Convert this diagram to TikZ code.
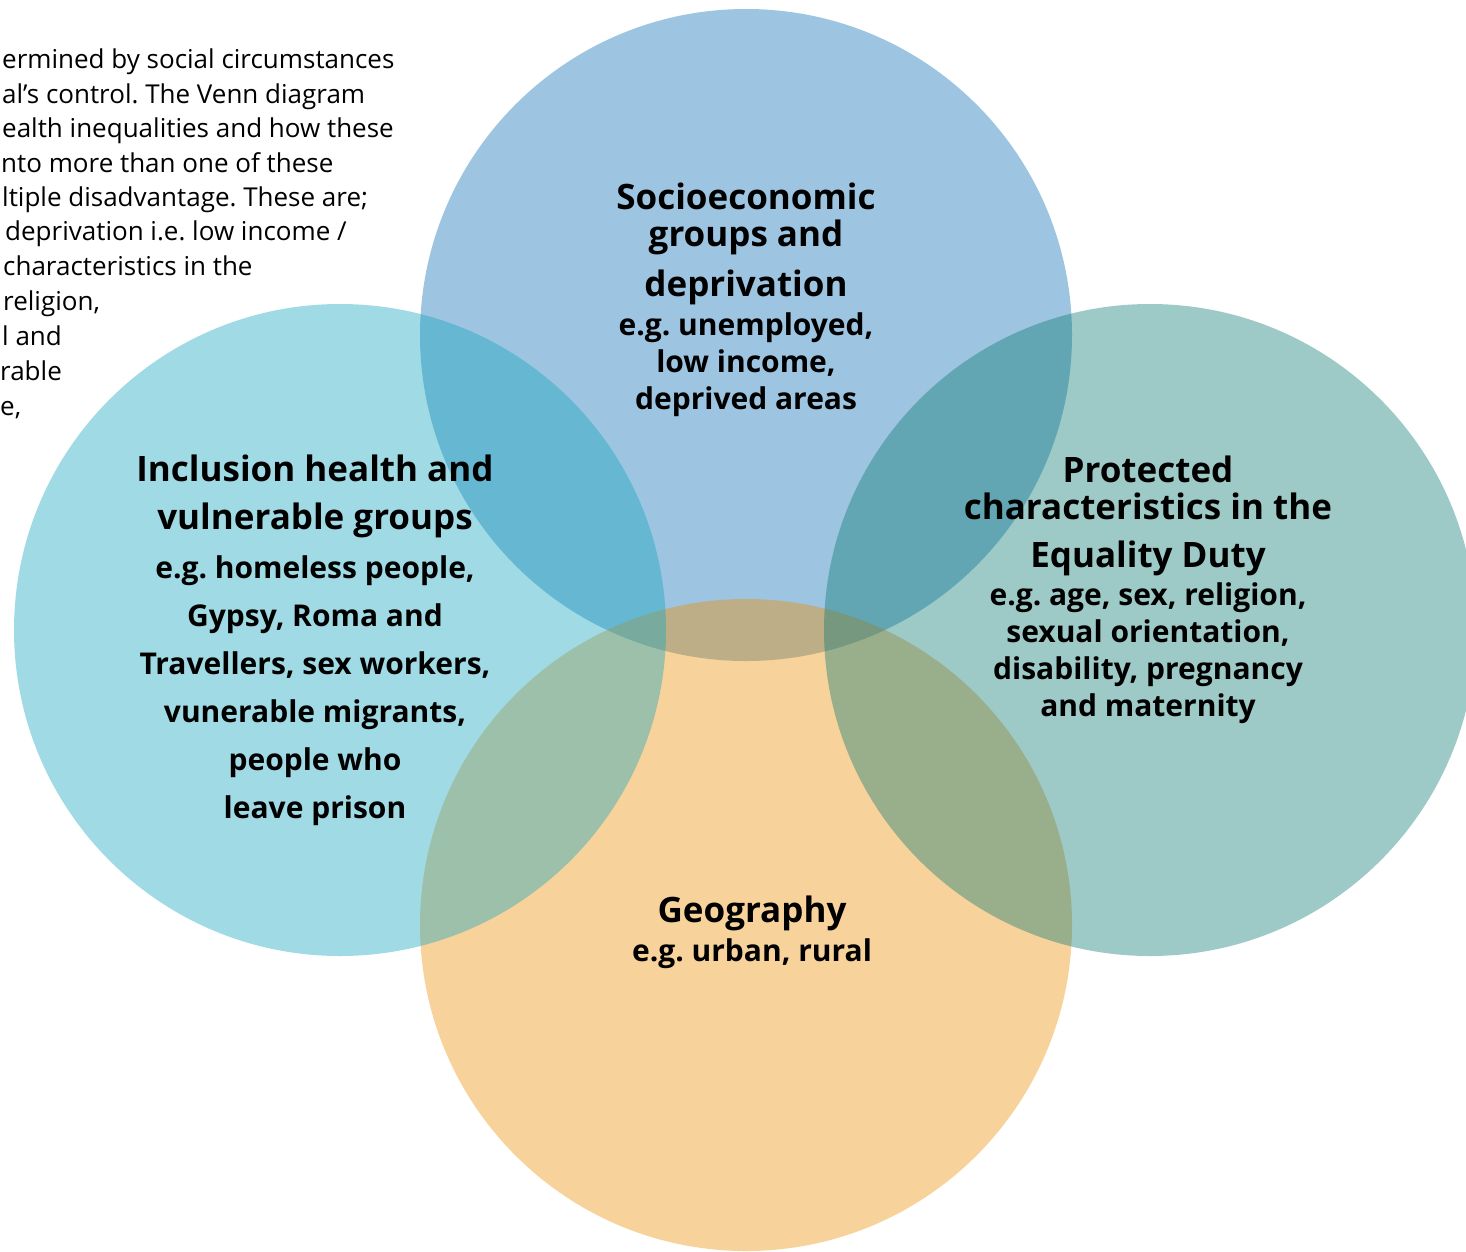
\documentclass[tikz,border=0pt]{standalone}
\usepackage{fontspec}
\setmainfont{Open Sans}
\frenchspacing
\usetikzlibrary{positioning}

\definecolor{socblue}{RGB}{10,108,178}
\definecolor{incblue}{RGB}{18,165,190}
\definecolor{protteal}{RGB}{10,120,115}
\definecolor{geoorange}{RGB}{238,143,5}

\begin{document}
\begin{tikzpicture}[x=1pt,y=-1pt,inner sep=0pt,node distance=8pt]
    \tikzstyle{venn}=[circle,minimum size=652pt,fill opacity=0.4]
    \tikzstyle{head}=[align=center,font=\fontsize{35}{37}\selectfont\bfseries]
    \tikzstyle{eg}=[align=center,font=\fontsize{30}{37}\selectfont\bfseries]
    \tikzstyle{para}=[anchor=base west,font=\fontsize{26}{30}\selectfont]

    \useasboundingbox (0,0) rectangle (1466,1251);
    \clip (0,0) rectangle (1466,1251);

    % text of the page, cut at the left edge
    \node[para] (p1) at (2,68) {ermined by social circumstances};
    \node[para] (p2) at (2,103) {al’s control. The Venn diagram};
    \node[para] (p3) at (2,137) {ealth inequalities and how these};
    \node[para] (p4) at (1,172) {nto more than one of these};
    \node[para] (p5) at (2,206) {ltiple disadvantage. These are;};
    \node[para] (p6) at (5,240) {deprivation i.e. low income /};
    \node[para] (p7) at (3,275) {characteristics in the};
    \node[para] (p8) at (3,310) {religion,};
    \node[para] (p9) at (2,345) {l and};
    \node[para] (p10) at (0,380) {rable};
    \node[para] (p11) at (0,415) {e,};

    % the four sets
    \node[venn,fill=socblue] (soc) at (746,335) {};
    \node[venn,fill=geoorange] (geo) at (746,925) {};
    \node[venn,fill=incblue] (inc) at (340,630) {};
    \node[venn,fill=protteal] (prot) at (1150,630) {};

    % labels
    \node[head,anchor=north] (socT) at (746,183) {Socioeconomic\\groups and\\[13pt]deprivation};
    \node[eg,below=7pt of socT] (socE) {e.g. unemployed,\\low income,\\deprived areas};

    \node[head,anchor=north] (incT) at (315,455) {Inclusion health and\\[11pt]vulnerable groups};
    \node[eg,below=17pt of incT] (incE) {e.g. homeless people,\\[11pt]Gypsy, Roma and\\[11pt]Travellers, sex workers,\\[11pt]vunerable migrants,\\[11pt]people who\\[11pt]leave prison};

    \node[head,anchor=north] (protT) at (1148,456) {Protected\\characteristics in the\\[11pt]Equality Duty};
    \node[eg,below=6pt of protT] (protE) {e.g. age, sex, religion,\\sexual orientation,\\disability, pregnancy\\and maternity};

    \node[head,anchor=north] (geoT) at (752,896) {Geography};
    \node[eg,below=7pt of geoT] (geoE) {e.g. urban, rural};
\end{tikzpicture}
\end{document}
